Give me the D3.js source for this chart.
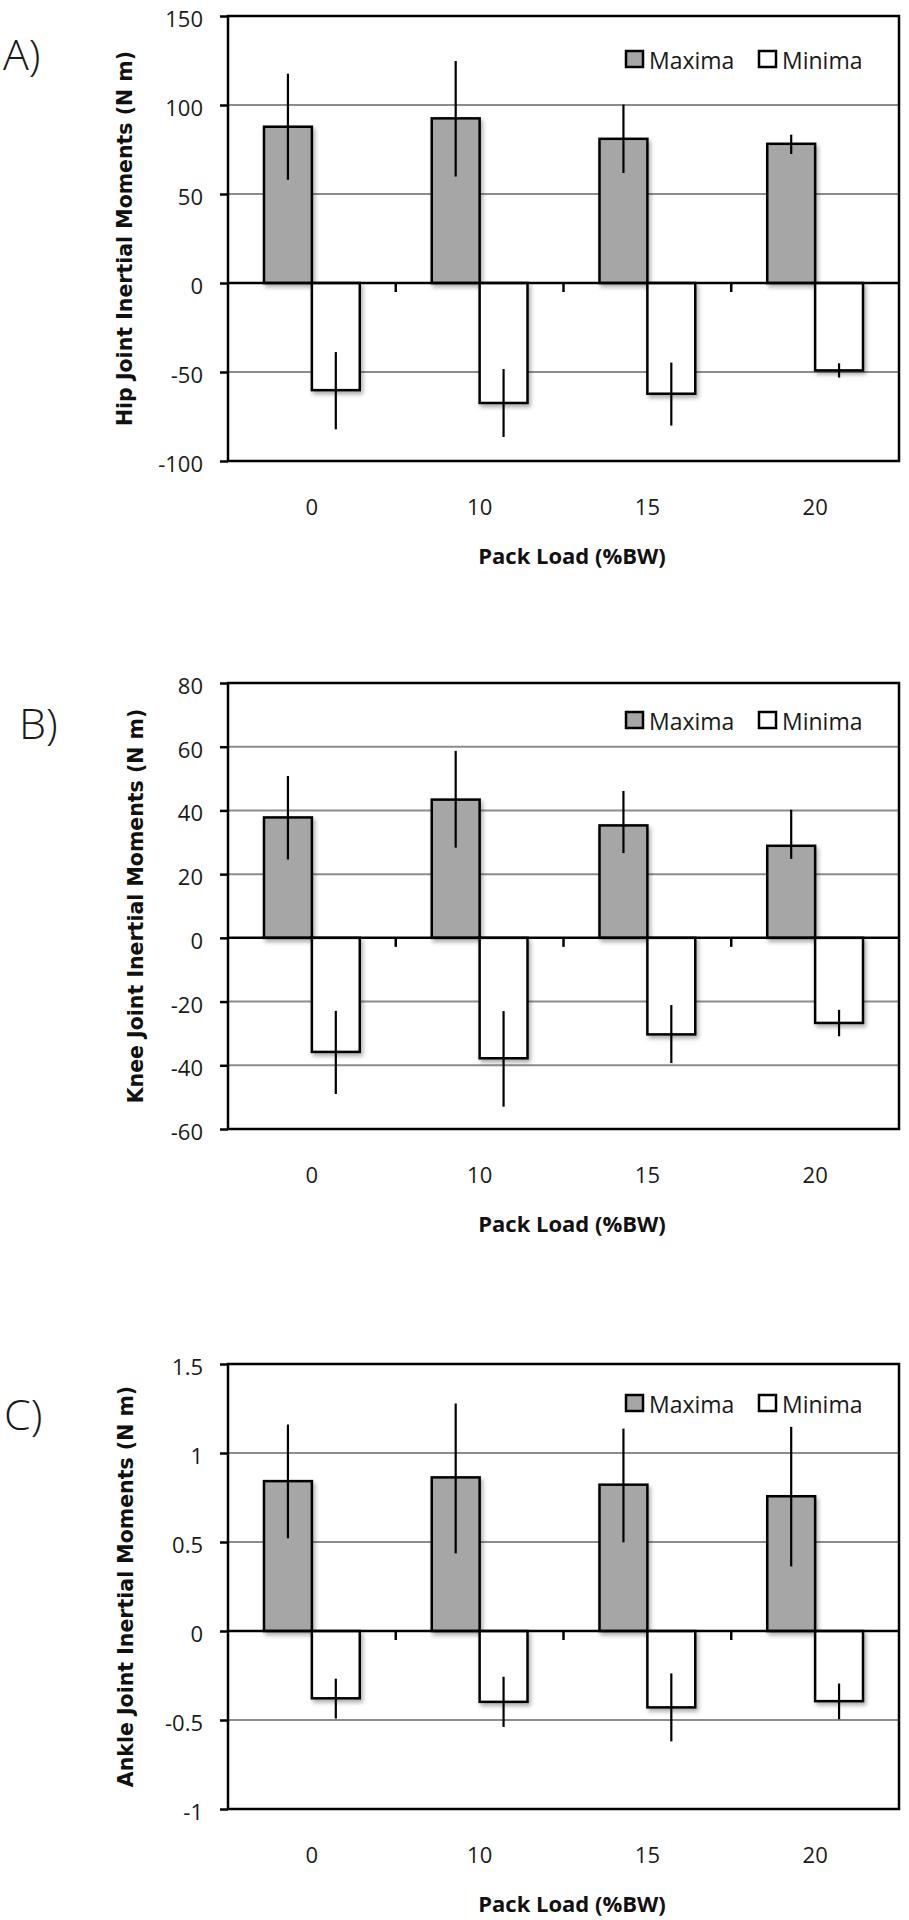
<!DOCTYPE html>
<html>
<head>
<meta charset="utf-8">
<script src="https://cdn.jsdelivr.net/npm/d3@7"></script>
<style>
  html, body { margin: 0; padding: 0; background: #fff; }
  svg { display: block; }
</style>
</head>
<body>
<svg id="chart" width="909" height="1920"></svg>
<script>
// ---------------- DATA ----------------
const categories = ["0", "10", "15", "20"];          // Pack Load (%BW)
const seriesNames = ["Maxima", "Minima"];

// Hip (A)
const hipTicks   = [-100, -50, 0, 50, 100, 150];
const hipMax     = [87.8, 92.5, 81.0, 78.2];
const hipMaxHi   = [117.6, 124.7, 100.2, 83.3];
const hipMaxLo   = [58.0, 59.8, 61.8, 72.5];
const hipMin     = [-60.2, -67.4, -62.2, -49.1];
const hipMinHi   = [-38.8, -48.3, -44.7, -45.1];
const hipMinLo   = [-82.2, -86.5, -80.1, -53.1];

// Knee (B)
const kneeTicks  = [-60, -40, -20, 0, 20, 40, 60, 80];
const kneeMax    = [37.8, 43.4, 35.3, 28.9];
const kneeMaxHi  = [50.8, 58.7, 46.1, 40.2];
const kneeMaxLo  = [24.6, 28.3, 26.6, 24.8];
const kneeMin    = [-35.8, -37.8, -30.3, -26.7];
const kneeMinHi  = [-22.9, -23.0, -21.1, -22.6];
const kneeMinLo  = [-49.0, -53.0, -39.3, -30.9];

// Ankle (C)
const ankleTicks = [-1, -0.5, 0, 0.5, 1, 1.5];
const ankleMax   = [0.842, 0.863, 0.822, 0.757];
const ankleMaxHi = [1.160, 1.278, 1.137, 1.147];
const ankleMaxLo = [0.521, 0.436, 0.498, 0.363];
const ankleMin   = [-0.378, -0.398, -0.429, -0.394];
const ankleMinHi = [-0.268, -0.257, -0.238, -0.295];
const ankleMinLo = [-0.492, -0.539, -0.620, -0.496];

const panelLetters = ["A)", "B)", "C)"];
const yTitles = ["Hip Joint Inertial Moments (N m)",
                 "Knee Joint Inertial Moments (N m)",
                 "Ankle Joint Inertial Moments (N m)"];
const xTitle = "Pack Load (%BW)";

// ---------------- LAYOUT ----------------
const svg = d3.select("#chart");
const defs = svg.append("defs");
const shadow = defs.append("filter").attr("id", "shadow")
  .attr("x", "-20%").attr("y", "-20%").attr("width", "150%").attr("height", "150%");
shadow.append("feDropShadow").attr("dx", 2).attr("dy", 3)
  .attr("stdDeviation", 2.2).attr("flood-color", "#000").attr("flood-opacity", 0.32);

const LEFT = 228, RIGHT = 899;
const GRAY = "#a6a6a6";
const TICKFONT = "'Open Sans', Lato, sans-serif";

const panels = [
  { top: 16,   bottom: 461,  ticks: hipTicks,
    max: hipMax, maxHi: hipMaxHi, maxLo: hipMaxLo, min: hipMin, minHi: hipMinHi, minLo: hipMinLo,
    letter: { x: 3, y: 70 }, titleX: 132, legendDy: 43 },
  { top: 683,  bottom: 1129, ticks: kneeTicks,
    max: kneeMax, maxHi: kneeMaxHi, maxLo: kneeMaxLo, min: kneeMin, minHi: kneeMinHi, minLo: kneeMinLo,
    letter: { x: 19, y: 739 }, titleX: 143, legendDy: 37 },
  { top: 1364, bottom: 1809, ticks: ankleTicks,
    max: ankleMax, maxHi: ankleMaxHi, maxLo: ankleMaxLo, min: ankleMin, minHi: ankleMinHi, minLo: ankleMinLo,
    letter: { x: 4, y: 1430 }, titleX: 133, legendDy: 39 }
];

const x0 = d3.scaleBand().domain(categories).range([LEFT, RIGHT]).paddingInner(0).paddingOuter(0);
const bw = x0.bandwidth();
const x1 = d3.scaleBand().domain(seriesNames).range([bw * 0.2146, bw * (1 - 0.2146)]).padding(0);

panels.forEach((p, pi) => {
  const g = svg.append("g");
  const ext = d3.extent(p.ticks);
  const y = d3.scaleLinear().domain(ext).range([p.bottom, p.top]);

  // gridlines (not at frame edges, not at zero)
  g.append("g").selectAll("line")
    .data(p.ticks.filter(t => t !== 0 && t !== ext[0] && t !== ext[1]))
    .join("line")
    .attr("x1", LEFT).attr("x2", RIGHT)
    .attr("y1", d => y(d)).attr("y2", d => y(d))
    .attr("stroke", "#8c8c8c").attr("stroke-width", 2);

  // y axis
  const yAxis = d3.axisLeft(y).tickValues(p.ticks).tickSize(8).tickPadding(17)
    .tickFormat(d => d3.format("")(d).replace("\u2212", "-"));
  const ya = g.append("g").attr("transform", `translate(${LEFT},0)`).call(yAxis);
  ya.select(".domain").remove();
  ya.selectAll(".tick line").attr("stroke", "#000").attr("stroke-width", 2.5);
  ya.selectAll(".tick text")
    .attr("font-family", TICKFONT).attr("font-size", 22).attr("fill", "#1a1a1a")
    .attr("dy", "0.48em");

  // bars
  const rows = categories.map((c, i) => ({
    cat: c,
    vals: [
      { s: "Maxima", v: p.max[i], hi: p.maxHi[i], lo: p.maxLo[i] },
      { s: "Minima", v: p.min[i], hi: p.minHi[i], lo: p.minLo[i] }
    ]
  }));
  const grp = g.append("g").selectAll("g").data(rows).join("g")
    .attr("transform", d => `translate(${x0(d.cat)},0)`);
  grp.selectAll("rect").data(d => d.vals).join("rect")
    .attr("x", d => x1(d.s))
    .attr("width", x1.bandwidth())
    .attr("y", d => Math.min(y(d.v), y(0)))
    .attr("height", d => Math.abs(y(d.v) - y(0)))
    .attr("fill", d => d.s === "Maxima" ? GRAY : "#fff")
    .attr("stroke", "#000").attr("stroke-width", 2.5)
    .attr("filter", "url(#shadow)");
  grp.selectAll("line.err").data(d => d.vals).join("line")
    .attr("class", "err")
    .attr("x1", d => x1(d.s) + x1.bandwidth() / 2)
    .attr("x2", d => x1(d.s) + x1.bandwidth() / 2)
    .attr("y1", d => y(d.hi)).attr("y2", d => y(d.lo))
    .attr("stroke", "#000").attr("stroke-width", 2.2);

  // zero line with category ticks
  g.append("line").attr("x1", LEFT).attr("x2", RIGHT)
    .attr("y1", y(0)).attr("y2", y(0)).attr("stroke", "#000").attr("stroke-width", 2.5);
  g.append("g").selectAll("line").data(categories.slice(1)).join("line")
    .attr("x1", d => x0(d)).attr("x2", d => x0(d))
    .attr("y1", y(0)).attr("y2", y(0) + 9)
    .attr("stroke", "#000").attr("stroke-width", 2.5);

  // frame
  g.append("rect").attr("x", LEFT).attr("y", p.top)
    .attr("width", RIGHT - LEFT).attr("height", p.bottom - p.top)
    .attr("fill", "none").attr("stroke", "#000").attr("stroke-width", 2.5);

  // x axis labels
  const xAxis = d3.axisBottom(x0).tickSize(0).tickPadding(0);
  const xa = g.append("g").attr("transform", `translate(0,${p.bottom})`).call(xAxis);
  xa.select(".domain").remove();
  xa.selectAll(".tick text")
    .attr("font-family", TICKFONT).attr("font-size", 22).attr("fill", "#1a1a1a")
    .attr("y", 54).attr("dy", 0);

  // x title
  g.append("text").attr("x", 572).attr("y", p.bottom + 103)
    .attr("text-anchor", "middle")
    .attr("font-family", TICKFONT).attr("font-weight", 700).attr("font-size", 22)
    .attr("fill", "#111").text(xTitle);

  // y title
  const cy = (p.top + p.bottom) / 2;
  g.append("text")
    .attr("transform", `translate(${p.titleX},${cy}) rotate(-90)`)
    .attr("text-anchor", "middle")
    .attr("font-family", "'DejaVu Sans', Verdana, sans-serif")
    .attr("font-weight", 700).attr("font-size", 20.5)
    .attr("fill", "#111").text(yTitles[pi]);

  // panel letter
  g.append("text").attr("x", p.letter.x).attr("y", p.letter.y)
    .attr("font-family", TICKFONT).attr("font-weight", 300).attr("font-size", 43)
    .attr("fill", "#1a1a1a").text(panelLetters[pi]);

  // legend
  const ly = p.top + p.legendDy;
  const legendX = [626, 759];
  const lg = g.append("g").selectAll("g").data(seriesNames).join("g")
    .attr("transform", (d, i) => `translate(${legendX[i]},${ly})`);
  lg.append("rect").attr("x", 0).attr("y", -8).attr("width", 17).attr("height", 16)
    .attr("fill", d => d === "Maxima" ? GRAY : "#fff")
    .attr("stroke", "#000").attr("stroke-width", 2.5);
  lg.append("text").attr("x", 23).attr("y", 10)
    .attr("font-family", TICKFONT).attr("font-size", 23).attr("fill", "#1a1a1a")
    .text(d => d);
});
</script>
</body>
</html>
